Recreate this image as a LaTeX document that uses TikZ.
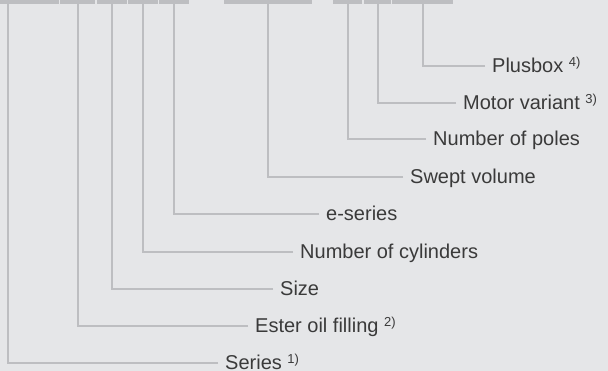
\documentclass[tikz,border=0pt]{standalone}
\usepackage{fontspec}
\setmainfont{Liberation Sans}
\usetikzlibrary{positioning}
\definecolor{bgcol}{RGB}{229,230,232}
\definecolor{leadcol}{RGB}{189,190,193}
\definecolor{textcol}{RGB}{58,58,58}
\newcommand{\fnref}[1]{\raisebox{6pt}{\fontsize{13}{15}\selectfont #1)}}

\begin{document}
\begin{tikzpicture}[x=1pt,y=-1pt,
      mybar/.style={
         rectangle,
         fill=leadcol,
         inner sep=0pt,
         minimum height=4pt},
      mylead/.style={draw=leadcol, line width=2pt},
      mylabel/.style={
         anchor=base west,
         inner sep=0pt,
         yshift=-7pt,
         text=textcol,
         font=\fontsize{20}{24}\selectfont}
      ]
      \fill[bgcol] (0,0) rectangle (608,371);
      \useasboundingbox (0,0) rectangle (608,371);

    % code boxes along the top edge
    \foreach \n/\a/\b in {b1/-43/59, b2/60/95, b3/97/127, b4/128/158, b5/159/189,
      b6/224/312, b7/333/362, b8/364/391, b9/392/453}
       \node[mybar, minimum width={(\b-\a)*1pt}] (\n) at ({(\a+\b)/2},2) {};

    \foreach \n/\s/\x/\y/\txt in {% node/box/text x/line y/text
      series/b1/225/363/{Series \fnref{1}},
      ester/b2/255/326/{Ester oil filling \fnref{2}},
      size/b3/280/289/{Size},
      cyl/b4/300/252/{Number of cylinders},
      eser/b5/326/214/{e-series},
      swept/b6/410/177/{Swept volume},
      poles/b7/433/139/{Number of poles},
      motor/b8/463/103/{Motor variant \fnref{3}},
      plus/b9/492/66/{Plusbox \fnref{4}}}
      {
       \node[mylabel] (\n) at (\x,\y) {\txt};
       \draw[mylead] ([xshift=-7pt,yshift=7pt]\n.base west) -| (\s.south);
      }

    \end{tikzpicture}
\end{document}
